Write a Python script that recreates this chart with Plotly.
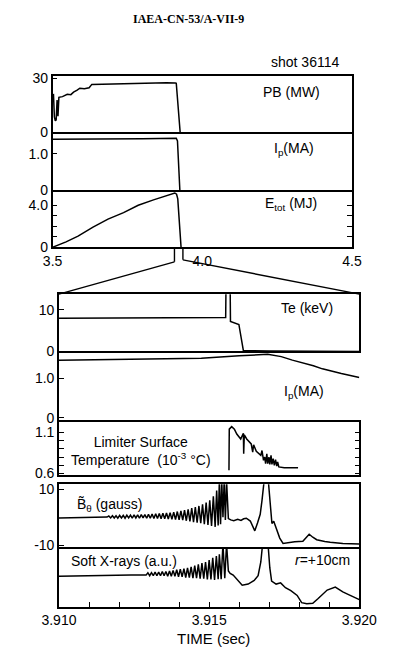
import numpy as np
import plotly.graph_objects as go

W, H = 401, 655

# ---------------- slow time base (s): whole discharge ----------------
pb_t = [3.500, 3.503, 3.506, 3.509, 3.512, 3.515, 3.518, 3.521, 3.533, 3.549, 3.561,
        3.570, 3.582, 3.591, 3.606, 3.622, 3.631, 3.661, 3.691, 3.740, 3.792, 3.843,
        3.880, 3.910, 3.913, 3.926]
pb_mw = [20.9, 21.0, 8.6, 6.5, 7.0, 18.0, 9.0, 19.5, 19.9, 21.2, 21.0,
         22.4, 23.5, 24.6, 24.3, 24.8, 26.7, 26.8, 27.0, 27.3, 27.6, 27.4,
         27.6, 27.5, 27.3, 0.0]

ip_t = [3.500, 3.600, 3.700, 3.800, 3.913, 3.917, 3.925]
ip_ma = [1.39, 1.39, 1.40, 1.41, 1.42, 1.35, 0.0]

etot_t = [3.500, 3.503, 3.545, 3.585, 3.635, 3.685, 3.737, 3.786, 3.837, 3.870,
          3.898, 3.908, 3.914, 3.918, 3.929]
etot_mj = [0.0, 0.02, 0.50, 1.05, 1.90, 2.67, 3.29, 4.00, 4.51, 4.85,
           5.14, 5.17, 5.05, 4.60, 0.0]

# ---------------- fast time base (ms after 3.910 s) ----------------
te_ms = [0.0, 2.0, 4.0, 5.55, 5.56, 5.70, 5.71, 5.99, 6.14, 7.0, 10.0]
te_kev = [8.0, 8.1, 8.1, 8.2, 15.0, 15.0, 7.2, 6.5, 0.2, 0.1, 0.0]

ipf_ms = [0.0, 1.5, 3.0, 4.74, 6.0, 6.95, 7.4, 7.77, 8.47, 8.77, 9.4, 10.0]
ipf_ma = [1.46, 1.47, 1.49, 1.51, 1.57, 1.61, 1.55, 1.46, 1.32, 1.24, 1.12, 1.02]

lim_ms = [5.66, 5.67, 5.75, 5.84, 5.92, 6.00, 6.05, 6.10, 6.14, 6.15, 6.17, 6.25,
          6.35, 6.40, 6.45, 6.48, 6.57, 6.65, 6.72, 6.76, 6.81, 6.85, 6.88, 6.92,
          6.95, 6.99, 7.02, 7.06, 7.09, 7.13, 7.17, 7.21, 7.25, 7.28, 7.32, 7.50,
          7.75, 7.96]
lim_kc = [0.64, 1.14, 1.17, 1.14, 1.08, 1.04, 1.02, 1.06, 1.09, 0.84, 1.07, 1.02,
          0.98, 0.96, 0.86, 0.95, 0.87, 0.84, 0.82, 0.88, 0.76, 0.80, 0.72, 0.84,
          0.72, 0.80, 0.71, 0.82, 0.71, 0.78, 0.70, 0.77, 0.69, 0.74, 0.68, 0.67,
          0.67, 0.67]

bth_ms = [0.00, 0.60, 1.20, 1.60, 1.66, 1.72, 1.78, 1.84, 1.90, 1.96, 2.02, 2.08,
          2.14, 2.20, 2.26, 2.32, 2.38, 2.44, 2.50, 2.56, 2.62, 2.68, 2.74, 2.80,
          2.86, 2.92, 2.98, 3.04, 3.10, 3.16, 3.22, 3.28, 3.34, 3.40, 3.46, 3.52,
          3.58, 3.64, 3.70, 3.76, 3.82, 3.88, 3.94, 4.00, 4.06, 4.12, 4.18, 4.24,
          4.30, 4.36, 4.42, 4.48, 4.54, 4.60, 4.66, 4.72, 4.78, 4.84, 4.90, 4.96,
          5.02, 5.08, 5.14, 5.20, 5.25, 5.30, 5.34, 5.38, 5.42, 5.46, 5.50, 5.54,
          5.58, 5.64, 5.72, 5.82, 5.95, 6.06, 6.15, 6.24, 6.37, 6.45, 6.52, 6.61,
          6.70, 6.76, 6.83, 6.97, 7.03, 7.09, 7.15, 7.21, 7.27, 7.35, 7.46, 7.65,
          7.85, 8.12, 8.23, 8.33, 8.45, 8.58, 8.85, 9.03, 9.45, 10.0]
bth_g = [-0.3, -0.2, -0.1, 0.0, 0.4, -0.3, 0.5, -0.3, 0.5, -0.4, 0.6, -0.3,
         0.6, -0.4, 0.7, -0.3, 0.7, -0.4, 0.8, -0.3, 0.8, -0.4, 0.9, -0.3,
         0.9, -0.4, 1.0, -0.4, 1.1, -0.5, 1.2, -0.5, 1.3, -0.6, 1.4, -0.6,
         1.5, -0.7, 1.6, -0.8, 1.8, -0.9, 2.0, -1.0, 2.2, -1.1, 2.5, -1.3,
         2.8, -1.5, 3.2, -1.8, 3.6, -2.0, 4.0, -2.2, 4.6, -2.5, 5.2, -2.8,
         6.0, -3.2, 7.5, -3.5, 9.5, -3.0, 13.0, -2.5, 13.0, 0.0, 13.0, -1.0,
         13.0, -0.5, -1.0, -1.3, -0.8, -1.2, -0.6, -0.4, -1.4, -3.0, -4.9, -2.1,
         1.0, 6.0, 13.0, 13.0, 4.0, -2.3, -1.5, -3.5, -5.1, -7.5, -9.4, -9.0,
         -8.8, -8.6, -7.2, -6.1, -7.2, -8.1, -8.7, -9.0, -9.4, -9.6]

sxr_ms = [0.00, 0.80, 1.60, 2.40, 2.90, 2.96, 3.02, 3.08, 3.14, 3.20, 3.26, 3.32,
          3.38, 3.44, 3.50, 3.56, 3.62, 3.68, 3.74, 3.80, 3.86, 3.92, 3.98, 4.04,
          4.10, 4.16, 4.22, 4.28, 4.34, 4.40, 4.46, 4.52, 4.58, 4.64, 4.70, 4.76,
          4.82, 4.88, 4.94, 5.00, 5.06, 5.12, 5.18, 5.24, 5.30, 5.34, 5.40, 5.46,
          5.52, 5.58, 5.64, 5.70, 5.80, 5.95, 6.10, 6.30, 6.50, 6.63, 6.72, 6.78,
          6.96, 7.02, 7.08, 7.23, 7.38, 7.54, 7.72, 7.93, 8.08, 8.25, 8.45, 8.63,
          8.93, 9.20, 9.45, 9.66, 9.96, 10.0]
sxr_au = [5.1, 5.2, 5.2, 5.3, 5.3, 5.7, 5.2, 5.7, 5.2, 5.8, 5.2, 5.8,
          5.2, 5.9, 5.2, 5.9, 5.1, 6.0, 5.1, 6.1, 5.1, 6.2, 5.0, 6.3,
          5.0, 6.4, 4.9, 6.5, 4.9, 6.7, 4.8, 6.9, 4.8, 7.1, 4.7, 7.3,
          4.7, 7.5, 4.6, 7.8, 4.6, 8.2, 4.5, 8.5, 4.6, 8.8, 4.6, 10.5,
          4.8, 10.5, 6.0, 5.6, 5.3, 4.4, 3.6, 3.8, 4.4, 5.2, 7.5, 10.5,
          10.5, 6.5, 4.3, 3.8, 4.0, 3.2, 2.7, 1.9, 0.7, 0.5, 0.6, 1.4,
          2.8, 3.3, 2.5, 2.0, 1.2, 1.2]

FAST_T0 = 3.910
fast_ticks = [3.910, 3.915, 3.920]
fast_minor = [3.911, 3.912, 3.913, 3.914, 3.916, 3.917, 3.918, 3.919]


def fast(ms):
    return FAST_T0 + np.asarray(ms) / 1000.0


# ---------------- layout geometry (pixels) ----------------
TOP_X = (38, 367)
LOW_X = (45, 375)
FONT = "Liberation Sans, Arial, Helvetica, sans-serif"
INK = "black"


def xdom(a, b):
    return [a / W, b / W]


def ydom(top, bottom):
    return [1 - bottom / H, 1 - top / H]


def px(x):
    return x / W


def py(y):
    return 1 - y / H


# name, x-extent, (top, bottom), x range, y range, labelled ticks, minor ticks,
# draw top edge, right edge mode
panels = [
    ("pb", TOP_X, (72, 130), [3.5, 4.5], [0, 31.6], [0, 30], [], True, True),
    ("ip", TOP_X, (130, 189), [3.5, 4.5], [0, 1.58], [0, 1.0], [], False, True),
    ("etot", TOP_X, (189, 247), [3.5, 4.5], [0, 5.43], [0, 4.0], [1, 2, 3], False, "ticks"),
    ("te", LOW_X, (295, 353.5), [3.910, 3.920], [0, 13.8], [0, 10], [], True, True),
    ("ipf", LOW_X, (353.5, 423.5), [3.910, 3.920], [-0.06, 1.68], [0, 1.0], [], False, False),
    ("lim", LOW_X, (423.5, 480), [3.910, 3.920], [0.576, 1.25], [0.6, 1.1],
     [0.7, 0.8, 0.9, 1.0], False, "ticks"),
    ("bth", LOW_X, (489, 553), [3.910, 3.920], [-10.7, 11.75], [-10, 10], [], True, True),
    ("sxr", LOW_X, (553, 614), [3.910, 3.920], [0, 10], [], [], False, True),
]
tick_text = {
    "pb": ["0", "30"], "ip": ["0", "1.0"], "etot": ["0", "4.0"],
    "te": ["0", "10"], "ipf": ["0", "1.0"], "lim": ["0.6", "1.1"],
    "bth": ["-10", "10"], "sxr": [],
}

series = {
    "pb": (pb_t, pb_mw),
    "ip": (ip_t, ip_ma),
    "etot": (etot_t, etot_mj),
    "te": (fast(te_ms), te_kev),
    "ipf": (fast(ipf_ms), ipf_ma),
    "lim": (fast(lim_ms), lim_kc),
    "bth": (fast(bth_ms), bth_g),
    "sxr": (fast(sxr_ms), sxr_au),
}

fig = go.Figure()
layout = dict(
    width=W, height=H,
    margin=dict(l=0, r=0, t=0, b=0),
    paper_bgcolor="white", plot_bgcolor="white",
    showlegend=False,
    font=dict(family=FONT, size=14, color=INK),
)

tick_font = dict(family=FONT, size=14, color=INK)
LW = 1.5

for i, (name, xe, (top, bot), xr, yr, tv, minor_v, top_edge, right_edge) in enumerate(panels, start=1):
    sfx = "" if i == 1 else str(i)
    xa = dict(
        domain=xdom(*xe), anchor="y" + sfx, range=xr,
        showline=True, linewidth=LW, linecolor=INK, mirror=top_edge,
        showgrid=False, zeroline=False, showticklabels=False, ticks="",
    )
    if name == "etot":
        xa.update(showticklabels=True, tickvals=[3.5, 4.0, 4.5],
                  ticktext=["3.5", "4.0", "4.5"], tickfont=tick_font)
    if name == "sxr":
        xa.update(showticklabels=True, tickvals=fast_ticks,
                  ticktext=["%.3f" % v for v in fast_ticks],
                  ticks="inside", ticklen=5, tickwidth=1.3, tickcolor=INK,
                  tickfont=tick_font,
                  minor=dict(tickvals=fast_minor, ticks="inside", ticklen=5,
                             tickwidth=1.3, tickcolor=INK, showgrid=False))
    ya = dict(
        domain=ydom(top, bot), anchor="x" + sfx, range=yr,
        showline=True, linewidth=LW, linecolor=INK, mirror=right_edge,
        showgrid=False, zeroline=False,
        tickvals=tv, ticktext=tick_text[name], ticks="inside" if tv else "",
        ticklen=5, tickwidth=1.3, tickcolor=INK, tickfont=tick_font,
    )
    if minor_v:
        ya["minor"] = dict(tickvals=minor_v, ticks="inside", ticklen=5,
                           tickwidth=1.3, tickcolor=INK, showgrid=False)
    layout["xaxis" + sfx] = xa
    layout["yaxis" + sfx] = ya

    t, v = series[name]
    fig.add_trace(go.Scatter(
        x=list(t), y=list(v), mode="lines",
        line=dict(color=INK, width=1.5),
        xaxis="x" + sfx, yaxis="y" + sfx, hoverinfo="skip",
    ))

fig.update_layout(**layout)

# ---------------- texts ----------------
def note(x, y, text, size=14, xanchor="center", family=FONT, align="center"):
    fig.add_annotation(x=px(x), y=py(y), xref="paper", yref="paper",
                       text=text, showarrow=False, xanchor=xanchor,
                       yanchor="middle", align=align,
                       font=dict(family=family, size=size, color=INK))


note(187, 14, "<b>IAEA-CN-53/A-VII-9</b>", size=12,
     family="Liberation Serif, Times New Roman, serif")
note(355, 58, "shot 36114", xanchor="right")
note(301, 89, "PB (MW)")
note(303, 147, "I<sub>p</sub>(MA)")
note(300, 203, "E<sub>tot</sub> (MJ)")
note(317, 309, "Te (keV)")
note(314, 395, "I<sub>p</sub>(MA)")
note(135, 455, "Limiter Surface<br>Temperature  (10<sup>-3</sup> °C)")
note(101, 510, "B\u0303<sub>θ</sub> (gauss)")
note(117, 567, "Soft X-rays (a.u.)")
note(335, 566, "<i>r</i>=+10cm")
note(215, 646, "TIME (sec)", size=15)

# ---------------- zoom connector: slow window -> fast panels ----------------
def top_px(t):
    return TOP_X[0] + (t - 3.5) / 1.0 * (TOP_X[1] - TOP_X[0])


br_left = top_px(3.910) - 1
br_right = top_px(3.920) + 5
etot_bottom = panels[2][2][1]
br_foot = etot_bottom + 15
te_top = panels[3][2][0]

segments = [
    (br_left, etot_bottom, br_left, br_foot),
    (br_right, etot_bottom, br_right, br_foot - 2),
    (br_left, br_foot, LOW_X[0], te_top),
    (br_right, br_foot - 2, LOW_X[1], te_top),
]
for x0, y0, x1, y1 in segments:
    fig.add_shape(type="line", xref="paper", yref="paper",
                  x0=px(x0), y0=py(y0), x1=px(x1), y1=py(y1),
                  line=dict(color=INK, width=1.4))

fig.write_html("out.html")
